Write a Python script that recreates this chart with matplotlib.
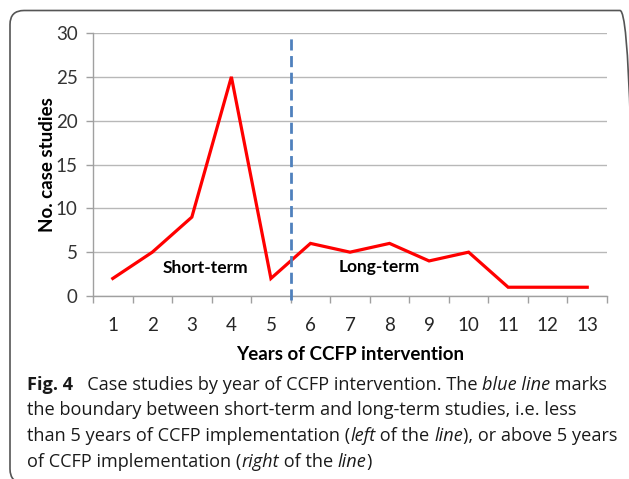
import matplotlib
matplotlib.use("Agg")
import matplotlib.pyplot as plt
from matplotlib.patches import FancyBboxPatch
from matplotlib.transforms import IdentityTransform

years = [1, 2, 3, 4, 5, 6, 7, 8, 9, 10, 11, 12, 13]
cases = [2, 5, 9, 25, 2, 6, 5, 6, 4, 5, 1, 1, 1]
boundary = 5.5
yticks = [0, 5, 10, 15, 20, 25, 30]

caption = [
    [("Fig. 4", "normal", "bold"), ("   Case studies by year of CCFP intervention. The ", "normal", "normal"),
     ("blue line", "italic", "normal"), (" marks", "normal", "normal")],
    [("the boundary between short-term and long-term studies, i.e. less", "normal", "normal")],
    [("than 5 years of CCFP implementation (", "normal", "normal"), ("left", "italic", "normal"),
     (" of the ", "normal", "normal"), ("line", "italic", "normal"),
     ("), or above 5 years", "normal", "normal")],
    [("of CCFP implementation (", "normal", "normal"), ("right", "italic", "normal"),
     (" of the ", "normal", "normal"), ("line", "italic", "normal"), (")", "normal", "normal")],
]

W, H = 629, 479
fig = plt.figure(figsize=(W / 100, H / 100), dpi=100)
chart_font = "Lato"
cap_font = "Open Sans"

ax = fig.add_axes([93 / W, 1 - 296 / H, 514 / W, 263 / H])
ax.plot(years, cases, color="#ff0000", lw=2.3, solid_joinstyle="miter", zorder=3)
ax.plot([boundary, boundary], [-0.4, 29.4], color="#4f81bd", lw=2, dashes=(4, 2),
        clip_on=False, zorder=4)

ax.set_xlim(0.5, 13.5)
ax.set_ylim(0, 30)
ax.set_yticks(yticks)
ax.set_xticks(years)
ax.set_xticks([x + 0.5 for x in range(0, 14)], minor=True)
ax.tick_params(axis="x", which="major", length=0, pad=15, labelsize=13.5, labelcolor="#262626")
ax.tick_params(axis="x", which="minor", length=5, width=1, color="#a0a0a0")
ax.tick_params(axis="y", length=5, width=1, color="#a0a0a0", labelsize=13.5, labelcolor="#333333", pad=6)
for lab in ax.get_xticklabels() + ax.get_yticklabels():
    lab.set_family(chart_font)
ax.grid(axis="y", color="#b8b8b8", lw=1)
ax.set_axisbelow(True)
for s in ["top", "right"]:
    ax.spines[s].set_visible(False)
for s in ["left", "bottom"]:
    ax.spines[s].set_color("#a0a0a0")
    ax.spines[s].set_linewidth(1)

ax.set_ylabel("No. case studies", family=chart_font, fontsize=13.5, fontweight="bold", labelpad=0)
ax.set_xlabel("Years of CCFP intervention", family=chart_font, fontsize=13.5, fontweight="bold", labelpad=9)
ax.text(3.35, 3.2, "Short-term", family=chart_font, fontsize=12.5, fontweight="bold",
        ha="center", va="center")
ax.text(7.75, 3.3, "Long-term", family=chart_font, fontsize=12.5, fontweight="bold",
        ha="center", va="center")

# rounded frame around the whole figure
frame = FancyBboxPatch((10, -4), 624, H - 10 + 4 - 0.5,
                       boxstyle="round,pad=0,rounding_size=14",
                       transform=IdentityTransform(), fill=False,
                       edgecolor="#555555", lw=1.2, clip_on=False)
fig.patches.append(frame)

# caption with mixed styles
renderer = fig.canvas.get_renderer()
line_y = [385, 410, 436, 462]
for runs, yc in zip(caption, line_y):
    x = 27
    for s, st, wt in runs:
        t = fig.text(x, H - yc, s, family=cap_font, fontsize=13.1, style=st, weight=wt,
                     va="center", ha="left", transform=IdentityTransform(), color="#1a1a1a")
        x += t.get_window_extent(renderer).width

fig.savefig("out.png", dpi=100)
